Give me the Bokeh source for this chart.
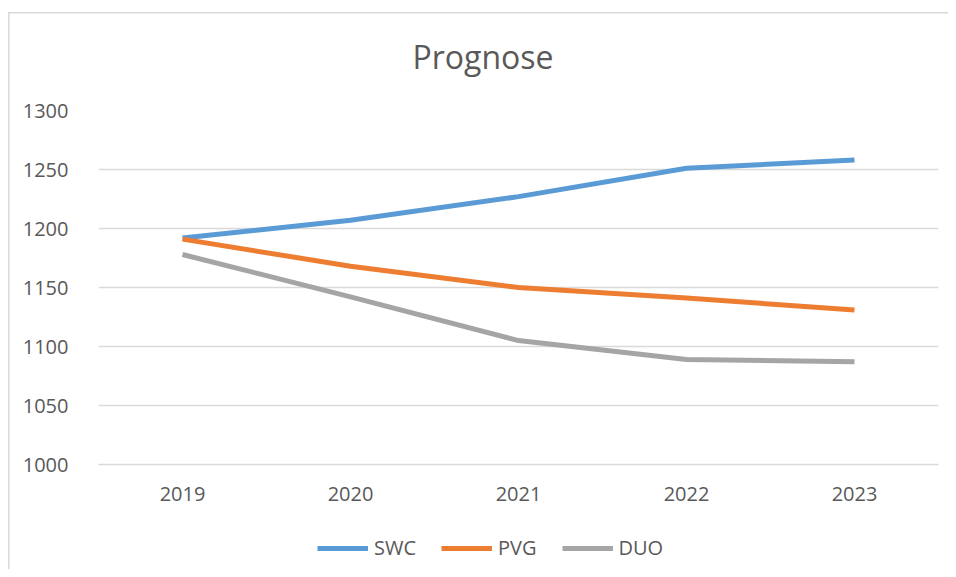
from bokeh.plotting import figure
from bokeh.layouts import column
from bokeh.models import (FactorRange, Range1d, FixedTicker, Legend, LegendItem, Title)
from bokeh.embed import file_html
from bokeh.resources import INLINE

years = ["2019", "2020", "2021", "2022", "2023"]
swc = [1192, 1207, 1227, 1251, 1258]
pvg = [1191, 1168, 1150, 1141, 1131]
duo = [1178, 1142, 1105, 1089, 1087]
y_ticks = [1000, 1050, 1100, 1150, 1200, 1250, 1300]
series_names = ["SWC", "PVG", "DUO"]
colors = ["#5B9BD5", "#ED7D31", "#A5A5A5"]

FONT = "Open Sans"
TXT = "#595959"
GRID = "#d9d9d9"
NAN = float("nan")

p = figure(frame_width=840, frame_height=354, x_range=FactorRange(*years, range_padding=0),
           y_range=Range1d(1000, 1300), output_backend="svg", toolbar_location=None,
           min_border_left=98, min_border_right=10, min_border_top=110, min_border_bottom=56)
p.outline_line_color = None
p.background_fill_color = "white"
p.border_fill_alpha = 0

p.title = Title(text="Prognose", align="left", offset=314, standoff=65, text_font=FONT,
                text_font_size="32px", text_color=TXT, text_font_style="normal")

p.yaxis.ticker = FixedTicker(ticks=y_ticks)
p.yaxis.axis_line_color = None
p.yaxis.major_tick_line_color = None
p.yaxis.minor_tick_line_color = None
p.yaxis.major_label_standoff = 24
p.yaxis.major_label_text_font = FONT
p.yaxis.major_label_text_font_size = "20px"
p.yaxis.major_label_text_color = TXT

p.xaxis.axis_line_color = GRID
p.xaxis.axis_line_width = 1.5
p.xaxis.major_tick_line_color = None
p.xaxis.minor_tick_line_color = None
p.xaxis.major_label_standoff = 16
p.xaxis.major_label_text_font = FONT
p.xaxis.major_label_text_font_size = "20px"
p.xaxis.major_label_text_color = TXT

p.xgrid.grid_line_color = None
p.ygrid.grid_line_color = GRID
p.ygrid.grid_line_width = 1.5

for vals, c in zip([swc, pvg, duo], colors):
    p.line(years, vals, line_color=c, line_width=5, line_join="round")

# legend strip below the chart
lg = figure(frame_width=948, frame_height=49, x_range=Range1d(0, 1), y_range=Range1d(0, 1),
            output_backend="svg", toolbar_location=None, x_axis_location=None,
            y_axis_location=None, min_border=0)
lg.grid.visible = False
lg.outline_line_color = None
lg.background_fill_alpha = 0
lg.border_fill_alpha = 0
keys = [lg.line(x=[NAN], y=[NAN], line_color=c, line_width=5) for c in colors]
legend = Legend(items=[LegendItem(label=n, renderers=[r]) for n, r in zip(series_names, keys)],
                orientation="horizontal", location=(317, 8),
                label_text_font=FONT, label_text_font_size="20px", label_text_color=TXT,
                glyph_width=51, glyph_height=20, label_standoff=6, spacing=25,
                padding=0, margin=0, border_line_color=None, background_fill_alpha=0)
lg.add_layout(legend, "center")

layout = column(p, lg, spacing=0)
layout.styles = {"background-color": "white",
                 "box-shadow": "inset 8px 12px 0 0 white, inset 9.5px 13.5px 0 0 #d9d9d9"}

open("out.html", "w").write(file_html(layout, INLINE))
